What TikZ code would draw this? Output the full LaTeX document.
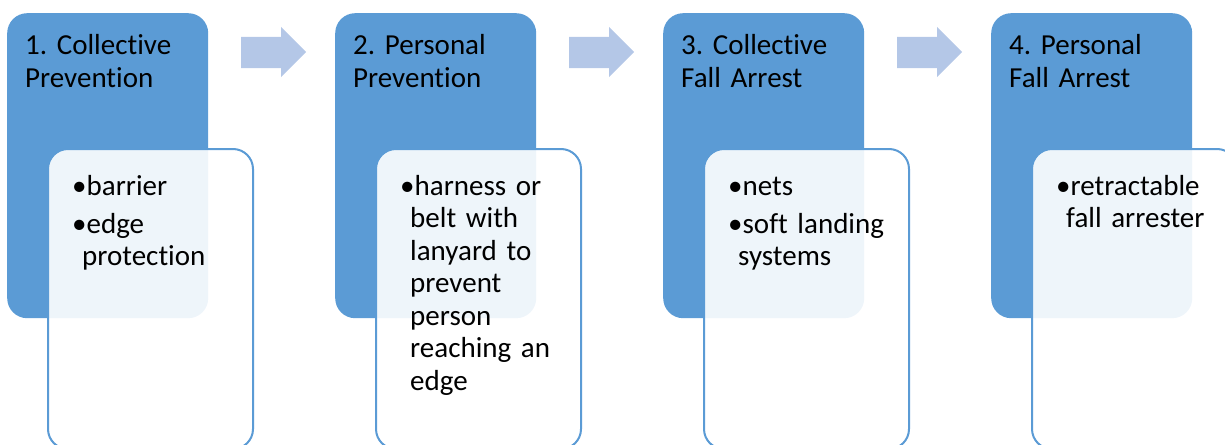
\documentclass[tikz,border=0pt]{standalone}
\usepackage{fontspec}
\setmainfont[Ligatures=NoCommon]{Carlito}
\definecolor{mainblue}{HTML}{5B9BD5}
\definecolor{arrowblue}{HTML}{B4C7E7}
\newcommand{\contind}{\hspace*{10pt}}
\tikzset{
  headbox/.style={fill=mainblue, rounded corners=20pt, minimum width=201pt, minimum height=305pt, anchor=north west, inner sep=0pt},
  listbox/.style={draw=mainblue, line width=2pt, fill=white, fill opacity=0.9, rounded corners=20pt, minimum width=205pt, minimum height=300pt, anchor=north west, inner sep=0pt},
  stepmark/.style={fill=arrowblue},
  titletext/.style={anchor=base west, inner sep=0pt, text width=190pt, align=left, font=\fontsize{29}{32.5}\selectfont\frenchspacing},
  listtext/.style={anchor=base west, inner sep=0pt, text width=190pt, align=left, font=\fontsize{29}{32.5}\selectfont\frenchspacing},
}
\begin{document}
\begin{tikzpicture}[x=1pt,y=-1pt]
\useasboundingbox (0,0) rectangle (1225,444);
\clip (0,0) rectangle (1225,444);
% dark heading boxes
\foreach \i in {0,1,2,3}{
  \node[headbox] (h\i) at (7+328*\i,13) {};
}
% arrows
\foreach \i in {0,1,2}{
  \fill[stepmark] (241+328*\i,37) -- (281+328*\i,37) -- (281+328*\i,27) -- (306+328*\i,52)
     -- (281+328*\i,77) -- (281+328*\i,68) -- (241+328*\i,68) -- cycle;
}
% light list boxes
\foreach \i in {0,1,2,3}{
  \node[listbox] (l\i) at (47+328*\i,148) {};
}
% titles
\node[titletext] (t0) at (25,55) {1. Collective\\Prevention};
\node[titletext] (t1) at (353,55) {2. Personal\\Prevention};
\node[titletext] (t2) at (681,55) {3. Collective\\Fall Arrest};
\node[titletext] (t3) at (1009,55) {4. Personal\\Fall Arrest};
% lists
\node[listtext] (x0) at (72,195) {•barrier\\[5.5pt]•edge\\\contind protection};
\node[listtext] (x1) at (400,195) {•harness or\\\contind belt with\\\contind lanyard to\\\contind prevent\\\contind person\\\contind reaching an\\\contind edge};
\node[listtext] (x2) at (728,195) {•nets\\[5.5pt]•soft landing\\\contind systems};
\node[listtext] (x3) at (1056,195) {•retractable\\\contind fall arrester};
\end{tikzpicture}
\end{document}
